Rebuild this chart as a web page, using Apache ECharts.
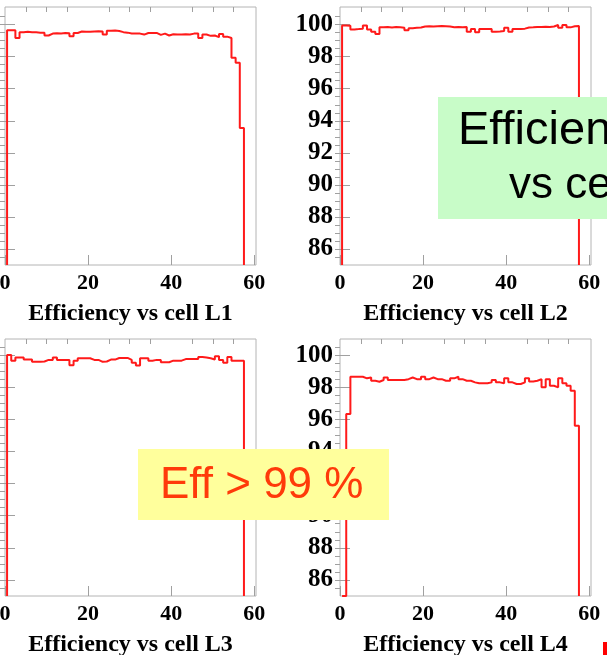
<!DOCTYPE html>
<html>
<head>
<meta charset="utf-8">
<script src="https://cdn.jsdelivr.net/npm/echarts@6/dist/echarts.min.js"></script>
<style>
  html, body { margin: 0; padding: 0; background: #fff; }
  #chart { width: 607px; height: 655px; }
</style>
</head>
<body>
<div id="chart"></div>
<script>
// Cell numbers 1..57 (one histogram bin per cell, bins centred on the cell number)
const cells = Array.from({ length: 57 }, (_, i) => i + 1);

// Efficiency (%) per cell, one array per layer
const effL1 = [
  99.65, 99.65, 99.17, 99.52, 99.55, 99.53, 99.52, 99.50, 99.50, 99.32,
  99.44, 99.46, 99.45, 99.47, 99.46, 99.28, 99.48, 99.57, 99.55, 99.55,
  99.57, 99.58, 99.57, 99.38, 99.62, 99.63, 99.60, 99.53, 99.50, 99.45,
  99.44, 99.44, 99.38, 99.48, 99.47, 99.48, 99.36, 99.44, 99.32, 99.40,
  99.38, 99.38, 99.40, 99.38, 99.44, 99.44, 99.17, 99.38, 99.30, 99.32,
  99.22, 99.42, 99.25, 99.17, 97.93, 97.62, 93.55
];
const effL2 = [
  99.95, 99.93, 99.70, 99.72, 99.75, 99.95, 99.70, 99.55, 99.42, 99.83,
  99.85, 99.82, 99.85, 99.83, 99.80, 99.65, 99.78, 99.80, 99.82, 99.88,
  99.90, 99.88, 99.90, 99.92, 99.90, 99.88, 99.83, 99.85, 99.83, 99.85,
  99.55, 99.73, 99.52, 99.73, 99.73, 99.72, 99.55, 99.57, 99.60, 99.80,
  99.55, 99.72, 99.73, 99.75, 99.82, 99.83, 99.85, 99.85, 99.87, 99.85,
  99.88, 99.98, 99.80, 99.97, 99.83, 99.90, 99.92
];
const effL3 = [
  100.0, 99.65, 99.85, 99.85, 99.72, 99.72, 99.58, 99.58, 99.60, 99.70,
  99.70, 99.85, 99.70, 99.70, 99.70, 99.37, 99.65, 99.80, 99.80, 99.80,
  99.70, 99.70, 99.58, 99.60, 99.72, 99.72, 99.82, 99.82, 99.82, 99.70,
  99.52, 99.35, 99.80, 99.80, 99.65, 99.70, 99.70, 99.55, 99.55, 99.65,
  99.65, 99.65, 99.75, 99.75, 99.75, 99.75, 99.88, 99.85, 99.80, 99.72,
  99.92, 99.70, 99.52, 99.88, 99.65, 99.65, 99.65
];
const effL4 = [
  0.0, 96.33, 98.65, 98.65, 98.65, 98.55, 98.60, 98.40, 98.34, 98.45,
  98.60, 98.45, 98.45, 98.45, 98.45, 98.50, 98.60, 98.50, 98.50, 98.65,
  98.50, 98.60, 98.50, 98.50, 98.40, 98.40, 98.55, 98.65, 98.50, 98.40,
  98.40, 98.30, 98.24, 98.24, 98.24, 98.30, 98.45, 98.30, 98.24, 98.55,
  98.30, 98.20, 98.20, 98.30, 98.55, 98.36, 98.40, 98.50, 97.99, 98.50,
  98.09, 97.99, 98.55, 98.24, 98.09, 97.78, 95.60
];

const layerTitles = ['Efficiency vs cell L1', 'Efficiency vs cell L2', 'Efficiency vs cell L3', 'Efficiency vs cell L4'];
const layerData = [effL1, effL2, effL3, effL4];

// Axis ticks and labels
const xMajor = [0, 20, 40, 60];
const xMinor = [5, 10, 15, 25, 30, 35, 45, 50, 55];
const yMajor = [86, 88, 90, 92, 94, 96, 98, 100];
const yMin = 85;
const yMinor = [];
for (let v = yMin + 0.5; v < 101; v += 0.5) yMinor.push(v);

// Panel frames (pixels)
const panels = [
  { left: 5,   top: 7,   yMax: 101.1 },
  { left: 340, top: 7,   yMax: 101.1 },
  { left: 5,   top: 339, yMax: 101.0 },
  { left: 340, top: 339, yMax: 101.0 }
];
const panelW = 251, panelH = 258;

// Histogram outline: flat top across each bin, vertical edges between bins,
// values under the axis floor are drawn along the floor
function outline(vals) {
  const pts = [[cells[0] - 0.5, yMin]];
  vals.forEach((v, i) => {
    const y = Math.max(v, yMin);
    pts.push([cells[i] - 0.5, y]);
    pts.push([cells[i] + 0.5, y]);
  });
  pts.push([cells[cells.length - 1] + 0.5, yMin]);
  return pts;
}

const serif = 'Liberation Serif';
const tickColor = '#a0a0a0';

const grid = [], xAxis = [], yAxis = [], series = [];
panels.forEach((p, k) => {
  grid.push({
    left: p.left, top: p.top, width: panelW, height: k < 2 ? panelH : panelH - 1,
    outerBoundsMode: 'none', containLabel: false,
    show: true, borderColor: '#b4b4b4', borderWidth: 1, backgroundColor: 'transparent'
  });
  // major x ticks, labels and title
  xAxis.push({
    gridIndex: k, type: 'value', min: 0, max: 60.4,
    axisLine: { show: false }, splitLine: { show: false },
    axisTick: { show: true, inside: true, length: 10, customValues: xMajor, lineStyle: { color: tickColor } },
    axisLabel: {
      customValues: xMajor, margin: 7, color: '#000',
      fontFamily: serif, fontWeight: 'bold', fontSize: 22
    },
    name: layerTitles[k], nameLocation: 'middle', nameGap: 37,
    nameTextStyle: { fontFamily: serif, fontWeight: 'bold', fontSize: 24, color: '#000' }
  });
  // minor x ticks
  xAxis.push({
    gridIndex: k, type: 'value', min: 0, max: 60.4,
    axisLine: { show: false }, splitLine: { show: false }, axisLabel: { show: false },
    axisTick: { show: true, inside: true, length: 5, customValues: xMinor, lineStyle: { color: tickColor } }
  });
  // major y ticks and labels
  yAxis.push({
    gridIndex: k, type: 'value', min: yMin, max: p.yMax,
    axisLine: { show: false }, splitLine: { show: false },
    axisTick: { show: true, inside: true, length: 10, customValues: yMajor, lineStyle: { color: tickColor } },
    axisLabel: {
      customValues: yMajor, margin: 7, color: '#000',
      fontFamily: serif, fontWeight: 'bold', fontSize: 25
    }
  });
  // minor y ticks
  yAxis.push({
    gridIndex: k, type: 'value', min: yMin, max: p.yMax,
    axisLine: { show: false }, splitLine: { show: false }, axisLabel: { show: false },
    axisTick: { show: true, inside: true, length: 5, customValues: yMinor, lineStyle: { color: tickColor } }
  });
  series.push({
    type: 'line', xAxisIndex: 2 * k, yAxisIndex: 2 * k,
    data: outline(layerData[k]),
    showSymbol: false, symbol: 'none', silent: true, animation: false,
    lineStyle: { color: '#ff1a1a', width: 2 }
  });
});

const chart = echarts.init(document.getElementById('chart'), null, { renderer: 'canvas' });
chart.setOption({
  animation: false,
  backgroundColor: '#ffffff',
  grid, xAxis, yAxis, series,
  graphic: [
    {
      type: 'rect', z: 100,
      shape: { x: 438, y: 97, width: 180, height: 122 },
      style: { fill: '#c8fcc8' }
    },
    {
      type: 'text', z: 101, left: 458, top: 108,
      style: { text: 'Efficiency', font: '47px "Liberation Sans"', fill: '#000' }
    },
    {
      type: 'text', z: 101, left: 509, top: 164,
      style: { text: 'vs cell', font: '44px "Liberation Sans"', fill: '#000' }
    },
    {
      type: 'rect', z: 100,
      shape: { x: 138, y: 449, width: 251, height: 71 },
      style: { fill: '#ffff9c' }
    },
    {
      type: 'text', z: 101, left: 160, top: 464,
      style: { text: 'Eff > 99 %', font: '44px "Liberation Sans"', fill: '#ff3a0a' }
    },
    {
      type: 'rect', z: 100,
      shape: { x: 603, y: 642, width: 6, height: 14 },
      style: { fill: '#ff0000' }
    }
  ]
});
</script>
</body>
</html>
